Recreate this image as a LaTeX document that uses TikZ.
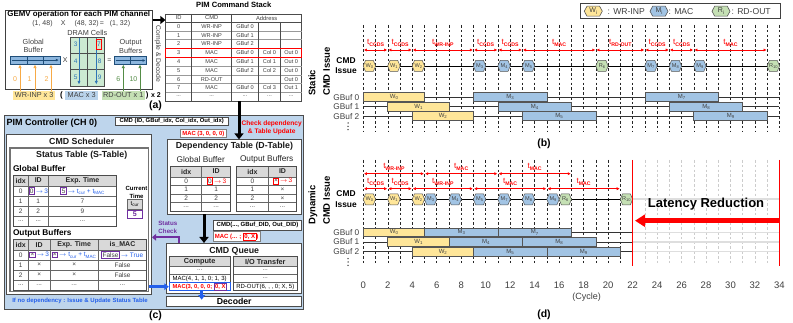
\documentclass[tikz,border=0pt]{standalone}
\usepackage{fontspec}
\setmainfont{Liberation Sans}
\usetikzlibrary{arrows.meta}
\definecolor{ctrlblue}{RGB}{190,213,236}
\definecolor{hexY}{RGB}{255,230,153}
\definecolor{hexB}{RGB}{162,196,228}
\definecolor{hexG}{RGB}{197,224,180}
\definecolor{edgeG}{RGB}{85,85,85}
\definecolor{txt}{RGB}{64,64,64}
\definecolor{hdr}{RGB}{217,217,217}
\definecolor{pur}{RGB}{112,48,160}
\definecolor{blu}{RGB}{35,95,235}
\definecolor{org}{RGB}{247,170,70}
\definecolor{grn}{RGB}{84,140,70}
\definecolor{cellG}{RGB}{204,234,210}
\definecolor{bufB}{RGB}{140,182,222}
\definecolor{navy}{RGB}{31,78,121}
\definecolor{lgray}{RGB}{222,222,222}
\definecolor{arrB}{RGB}{46,117,182}
\newcommand{\fs}[1]{\fontsize{#1}{#1}\selectfont}
\newcommand{\tsub}[1]{t\raisebox{-0.45ex}{\fs{5.2}\bfseries #1}}
\newcommand{\sbs}[1]{\raisebox{-0.35ex}{\scalebox{0.72}{#1}}}
\newcommand{\tcm}[1]{t\raisebox{-0.4ex}{\fs{4.6}#1}}
\newcommand{\rbx}[2]{{\setlength\fboxsep{0.6pt}\setlength\fboxrule{0.7pt}\fcolorbox{#1}{white}{#2}}}
\newcommand{\ddd}{...}
\tikzset{
  hexs/.pic={\filldraw[draw=edgeG, line width=0.5pt] (-6.2pt,0pt) -- (-3.9pt,5.5pt) -- (3.9pt,5.5pt) -- (6.2pt,0pt) -- (3.9pt,-5.5pt) -- (-3.9pt,-5.5pt) -- cycle;},
  hexl/.pic={\filldraw[draw=edgeG, line width=0.6pt] (-9pt,0pt) -- (-6.3pt,5pt) -- (6.3pt,5pt) -- (9pt,0pt) -- (6.3pt,-5pt) -- (-6.3pt,-5pt) -- cycle;},
  hexlbl/.style={inner sep=0pt, font=\fs{5.6}, text=txt},
  barbox/.style={draw=edgeG, line width=0.6pt},
  barlbl/.style={inner sep=0pt, font=\fs{6}, text=txt},
  gridd/.style={line width=0.5pt, black!85, dash pattern=on 2.6pt off 2.2pt},
  gridl/.style={line width=0.5pt, black!20, dash pattern=on 2.6pt off 2.2pt},
  hline/.style={line width=0.8pt, black!80},
  tarr/.style={red, line width=0.6pt, arrows={Latex[length=3pt,width=3.2pt]-Latex[length=3pt,width=3.2pt]}, shorten <=0.6pt, shorten >=0.6pt},
  tlbl/.style={red, inner sep=0pt, font=\fs{8}},
  tbl/.style={draw=black!70, line width=0.5pt},
  tsep/.style={draw=black!60, line width=0.5pt},
  cell/.style={inner sep=0pt, text=txt},
  hd/.style={inner sep=0pt, text=black!85, font=\bfseries\fs{7}},
  ttl/.style={inner sep=0pt, font=\bfseries\fs{8.8}, text=black!90},
  bigarr/.style={line width=3pt, -{Triangle[length=6pt,width=9pt]}},
  labl/.style={inner sep=0pt, font=\bfseries\fs{10.5}, text=black},
  sidelbl/.style={rotate=90, inner sep=0pt, align=left, font=\bfseries\fontsize{9.5}{14.5}\selectfont},
}
\begin{document}
\begin{tikzpicture}[x=1pt,y=-1pt]
\useasboundingbox (0,0) rectangle (793,323);
\fill[white] (0,0) rectangle (793,323);

% ================= (a) GEMV =================
\node[draw=black!75, line width=0.9pt, fill=white, minimum width=147.7pt, minimum height=79.3pt, inner sep=0pt] (gemv) at (78.85,49.65) {};
\node[inner sep=0pt, font=\bfseries\fs{7.9}] (gemvt) at (78.8,14.6) {GEMV operation for each PIM channel};
\node[cell, font=\fs{7}] (eq1) at (42.5,23.5) {(1, 48)};
\node[cell, font=\fs{7}] (eq2) at (63.3,23.5) {X};
\node[cell, font=\fs{7}] (eq3) at (86.7,23.5) {(48, 32)};
\node[cell, font=\fs{7}] (eq4) at (102,23.5) {=};
\node[cell, font=\fs{7}] (eq5) at (120,23.5) {(1, 32)};
\node[cell, font=\fs{7.3}] (dramt) at (87.3,32.8) {DRAM Cells};
\node[cell, font=\fontsize{7.3}{8.6}\selectfont, align=center] (gbt) at (33.3,46) {Global\\Buffer};
\node[cell, font=\fontsize{7.3}{8.6}\selectfont, align=center] (obt) at (130.7,46.2) {Output\\Buffers};
% global buffer bar
\draw[draw=navy, line width=0.6pt, fill=bufB] (10.7,56) rectangle (59.9,64.3);
\draw[navy, line width=0.5pt] (27.1,56) -- (27.1,64.3) (43.5,56) -- (43.5,64.3);
\draw[navy, line width=0.7pt, -{Latex[length=3pt,width=3pt]}] (12,60.1) -- (58.8,60.1);
\node[cell, font=\fs{7}] (xop) at (65.2,60.3) {X};
% DRAM cells
\draw[draw=black!70, line width=0.7pt, fill=cellG] (70.7,37.3) rectangle (104,86);
\draw[black!70, line width=0.5pt] (87.35,37.3) -- (87.35,86) (70.7,53.5) -- (104,53.5) (70.7,69.7) -- (104,69.7);
\draw[arrB, line width=0.8pt, -{Latex[length=3.5pt,width=3.2pt]}] (79,38.5) -- (79,84.5);
\draw[arrB, line width=0.8pt, -{Latex[length=3.5pt,width=3.2pt]}] (96.3,38.5) -- (96.3,84.5);
\foreach \nm/\xx/\yy in {3/75.6/44.6, 4/75.6/61.5, 5/75.6/77.4, 8/99.7/61.5, 9/99.7/77.4}
  \node[cell, text=arrB, font=\fs{6.5}] (dc\nm) at (\xx,\yy) {\nm};
\node[draw=red, line width=0.8pt, inner sep=0pt, minimum width=5.7pt, minimum height=10pt, text=arrB, font=\fs{6.5}] (dc7) at (99,44.6) {7};
\node[cell, font=\fs{7}] (eqop) at (109.3,61) {=};
% output buffer bar
\draw[draw=navy, line width=0.6pt, fill=bufB] (114.3,56.7) rectangle (146.7,64.3);
\draw[navy, line width=0.5pt] (130.5,56.7) -- (130.5,64.3);
\draw[navy, line width=0.7pt, -{Latex[length=3pt,width=3pt]}] (115.5,60.5) -- (145.5,60.5);
% index numbers
\foreach \nm/\xx in {0/15, 1/29.5, 2/46.5}
  \node[cell, text=org, font=\fs{7}] (gi\nm) at (\xx,79) {\nm};
\node[cell, text=grn, font=\fs{7}] (go6) at (118.3,79) {6};
\node[cell, text=grn, font=\fs{7}] (go10) at (133.5,79) {10};
% bottom labels
\node[fill=hexY, minimum width=41.7pt, minimum height=9.3pt, inner sep=0pt, font=\fs{7.3}, text=txt] (lwr) at (34.2,95.4) {WR-INP x 3};
\node[fill=hexB!75!white, minimum width=33.3pt, minimum height=9.3pt, inner sep=0pt, font=\fs{7.3}, text=txt] (lmac) at (81.7,95.4) {MAC x 3};
\node[fill=hexG, minimum width=43.3pt, minimum height=9.3pt, inner sep=0pt, font=\fs{7.3}, text=txt] (lrd) at (123.3,95.4) {RD-OUT x 1};
\node[cell, font=\bfseries\fs{8}, text=black] (lpar1) at (61.5,95.2) {(};
\node[cell, font=\bfseries\fs{8}, text=black] (lpar2) at (147.2,95.2) {)};
\node[cell, font=\bfseries\fs{7}, text=black] (lx2) at (156,95.4) {x 2};
\foreach \xx in {20,35,51}
  \draw[org, line width=0.9pt, -{Latex[length=3.5pt,width=3.5pt]}] (lwr.north -| \xx,0) -- (\xx,64.6);
\foreach \xx in {123.3,140}
  \draw[grn, line width=0.9pt, -{Latex[length=3.5pt,width=3.5pt]}] (lrd.north -| \xx,0) -- (\xx,64.6);
\node[labl] (lab-a) at (155.5,106) {(a)};
\node[cell, rotate=-90, font=\fs{6.8}] (cmpl) at (158,54) {Compile \& Decode};

% ================= PIM command stack =================
\node[draw=black!70, line width=0.6pt, fill=white, minimum width=136pt, minimum height=87.2pt, inner sep=0pt] (stack) at (233.7,57.6) {};
\node[anchor=west, inner sep=0pt, font=\bfseries\fs{7.6}] (stackt) at (196,5.2) {PIM Command Stack};
\foreach \ii in {1,...,8}
  \draw[black!40, line width=0.4pt] (165.7,{22+8.8*\ii}) -- (301.7,{22+8.8*\ii});
\draw[black!70, line width=0.5pt] (165.7,22) -- (301.7,22);
\draw[black!70, line width=0.5pt] (191.7,14) -- (191.7,101.2) (231.7,14) -- (231.7,101.2) (258.3,22) -- (258.3,101.2) (280.7,22) -- (280.7,101.2);
\node[cell, font=\fs{5.8}] (sh-id) at (178.7,18) {ID};
\node[cell, font=\fs{5.8}] (sh-cmd) at (211.7,18) {CMD};
\node[cell, font=\fs{5.8}] (sh-addr) at (266.7,18) {Address};
\foreach \ii/\cm/\ga/\gb/\gc in {0/WR-INP/GBuf 0/{}/{}, 1/WR-INP/GBuf 1/{}/{}, 2/WR-INP/GBuf 2/{}/{}, 3/MAC/GBuf 0/Col 0/Out 0, 4/MAC/GBuf 1/Col 1/Out 0, 5/MAC/GBuf 2/Col 2/Out 0, 6/RD-OUT/{}/{}/Out 0, 7/MAC/GBuf 0/Col 3/Out 1}{
  \node[cell, font=\fs{5.6}] (sid\ii) at (178.7,{26.4+8.8*\ii}) {\ii};
  \node[cell, font=\fs{5.6}] (scm\ii) at (211.7,{26.4+8.8*\ii}) {\cm};
  \node[cell, font=\fs{5.6}] (sga\ii) at (245,{26.4+8.8*\ii}) {\ga};
  \node[cell, font=\fs{5.6}] (sgb\ii) at (269.5,{26.4+8.8*\ii}) {\gb};
  \node[cell, font=\fs{5.6}] (sgc\ii) at (291.2,{26.4+8.8*\ii}) {\gc};
}
\foreach \xx/\nm in {178.7/a, 211.7/b, 245/c, 269.5/d, 291.2/e}
  \node[cell, font=\fs{5.6}] (sdots\nm) at (\xx,96.2) {\ddd};
\draw[red, line width=0.9pt] (165.7,48.4) rectangle (301.7,57.2);
\coordinate (gsrc) at (152.7,20);
\draw[line width=2.6pt, -{Triangle[length=5pt,width=8pt]}] (gsrc) -- (gsrc -| stack.west);

% ================= (c) PIM controller =================
\node[draw=black!70, line width=0.8pt, fill=ctrlblue, minimum width=299.3pt, minimum height=193.7pt, inner sep=0pt] (ctrl) at (153.65,212.15) {};
\node[anchor=west, inner sep=0pt, font=\bfseries\fs{9}] (ctrlt) at (6.5,123.5) {PIM Controller (CH 0)};
\node[draw=black!70, fill=white, line width=0.5pt, inner sep=0pt, minimum width=113.3pt, minimum height=8pt, font=\bfseries\fs{5.9}] (cmdin) at (171.65,121.3) {CMD (ID, GBuf\_idx, Col\_idx, Out\_idx)};
\node[draw=black!50, fill=white, line width=0.5pt, inner sep=0pt, minimum width=46.7pt, minimum height=7.6pt, font=\bfseries\fs{5.9}, text=red] (macin) at (203.35,133.5) {MAC (3, 0, 0, 0)};
\node[inner sep=0pt, align=center, font=\bfseries\fontsize{6.6}{8.3}\selectfont, text=red] (chk) at (271.7,128) {Check dependency\\\& Table Update};

% scheduler
\node[draw=black!70, line width=0.6pt, fill=white, minimum width=145pt, minimum height=159.8pt, inner sep=0pt] (sched) at (79.2,214.6) {};
\node[draw=black!55, line width=1.1pt, minimum width=138.5pt, minimum height=143.5pt, inner sep=0pt] (stat) at (79.25,219.75) {};
\node[ttl] (schedt) at (81.7,141.5) {CMD Scheduler};
\node[ttl] (statt) at (81.7,155.7) {Status Table (S-Table)};
\node[anchor=west, inner sep=0pt, font=\bfseries\fs{8.3}] (sgbt) at (12.8,169) {Global Buffer};
% S-table global buffer
\fill[hdr] (13.3,175) rectangle (116.7,186);
\draw[tsep] (13.3,186) -- (116.7,186) (13.3,196) -- (116.7,196) (13.3,206) -- (116.7,206) (13.3,216) -- (116.7,216);
\draw[tsep] (28.3,175) -- (28.3,226) (48.3,175) -- (48.3,226);
\draw[tbl, line width=0.8pt] (13.3,175) rectangle (116.7,226);
\node[hd] (sgh1) at (20.8,180.5) {idx};
\node[hd] (sgh2) at (38.3,180.5) {ID};
\node[hd] (sgh3) at (82.5,180.5) {Exp. Time};
\node[cell, font=\fs{6.5}] (sga0) at (20.8,191) {0};
\node[cell, font=\fs{6.5}] (sgb0) at (38.3,191) {\rbx{pur}{0}\,{\color{blu}$\rightarrow$\,3}};
\node[cell, font=\fs{6.5}] (sgc0) at (82.5,191) {\rbx{pur}{5}\,{\color{blu}$\rightarrow$ \tcm{cur} + \tcm{MAC}}};
\foreach \ii/\yy/\va/\vb/\vc in {1/201/1/1/7, 2/211/2/2/9, 3/221/\ddd/\ddd/\ddd}{
  \node[cell, font=\fs{6.5}] (sga\ii) at (20.8,\yy) {\va};
  \node[cell, font=\fs{6.5}] (sgb\ii) at (38.3,\yy) {\vb};
  \node[cell, font=\fs{6.5}] (sgc\ii) at (82.5,\yy) {\vc};
}
% current time
\node[inner sep=0pt, align=center, font=\bfseries\fontsize{6}{8.3}\selectfont] (curt) at (136.5,192.2) {Current\\Time};
\node[draw=black!60, fill=hdr, line width=0.5pt, minimum width=14.5pt, minimum height=10.5pt, inner sep=0pt, font=\fs{6}] (tcur) at (134.75,204.2) {\tcm{cur}};
\node[draw=pur, line width=0.9pt, fill=white, minimum width=14.5pt, minimum height=8pt, inner sep=0pt, font=\bfseries\fs{7}, text=pur] (tval) at (134.75,214.5) {5};
% S-table output buffers
\node[anchor=west, inner sep=0pt, font=\bfseries\fs{8.3}] (sobt) at (12.8,233.3) {Output Buffers};
\fill[hdr] (13.3,239.3) rectangle (146.7,250);
\draw[tsep] (13.3,250) -- (146.7,250) (13.3,260) -- (146.7,260) (13.3,270) -- (146.7,270) (13.3,280) -- (146.7,280);
\draw[tsep] (28.3,239.3) -- (28.3,290) (50,239.3) -- (50,290) (98.3,239.3) -- (98.3,290);
\draw[tbl, line width=0.8pt] (13.3,239.3) rectangle (146.7,290);
\node[hd] (soh1) at (20.8,244.7) {idx};
\node[hd] (soh2) at (39.2,244.7) {ID};
\node[hd] (soh3) at (74.2,244.7) {Exp. Time};
\node[hd] (soh4) at (122.5,244.7) {is\_MAC};
\node[cell, font=\fs{6.5}] (soa0) at (20.8,255) {0};
\node[cell, font=\fs{6.5}] (sob0) at (39.2,255) {\rbx{pur}{×}\,{\color{blu}$\rightarrow$\,3}};
\node[cell, font=\fs{6.5}] (soc0) at (73.8,255) {\rbx{pur}{×}\,{\color{blu}$\rightarrow$ \tcm{cur} + \tcm{MAC}}};
\node[cell, font=\fs{6.5}] (sod0) at (122.2,255) {\rbx{pur}{False}\,{\color{blu}$\rightarrow$ True}};
\foreach \ii/\yy/\va/\vb/\vc/\vd in {1/265/1/×/×/False, 2/275/2/×/×/False, 3/285/\ddd/\ddd/\ddd/\ddd}{
  \node[cell, font=\fs{6.5}] (soa\ii) at (20.8,\yy) {\va};
  \node[cell, font=\fs{6.5}] (sob\ii) at (39.2,\yy) {\vb};
  \node[cell, font=\fs{6.5}] (soc\ii) at (74.2,\yy) {\vc};
  \node[cell, font=\fs{6.5}] (sod\ii) at (122.5,\yy) {\vd};
}

% D-table
\node[draw=black!70, line width=0.6pt, fill=white, minimum width=134.4pt, minimum height=74.3pt, inner sep=0pt] (dtab) at (234.5,176.85) {};
\node[ttl] (dtabt) at (234.5,146.5) {Dependency Table (D-Table)};
\node[cell, font=\fs{8.3}, text=black!85] (dgbt) at (200.7,159.7) {Global Buffer};
\node[cell, font=\fs{8.3}, text=black!85] (dobt) at (266.7,159.7) {Output Buffers};
\fill[hdr] (170.7,166.3) rectangle (230.7,176.8);
\fill[hdr] (236.7,166.3) rectangle (296.7,176.8);
\draw[tsep] (170.7,176.8) -- (230.7,176.8) (170.7,185.4) -- (230.7,185.4) (170.7,194) -- (230.7,194) (170.7,202.5) -- (230.7,202.5) (201.7,166.3) -- (201.7,211);
\draw[tsep] (236.7,176.8) -- (296.7,176.8) (236.7,185.4) -- (296.7,185.4) (236.7,194) -- (296.7,194) (236.7,202.5) -- (296.7,202.5) (268.3,166.3) -- (268.3,211);
\draw[tbl, line width=0.8pt] (170.7,166.3) rectangle (230.7,211);
\draw[tbl, line width=0.8pt] (236.7,166.3) rectangle (296.7,211);
\node[hd] (dgh1) at (186.2,171.5) {idx};
\node[hd] (dgh2) at (216.2,171.5) {ID};
\node[hd] (doh1) at (252.5,171.5) {idx};
\node[hd] (doh2) at (282.5,171.5) {ID};
\node[cell, font=\fs{6.5}] (dga0) at (186.2,181.1) {0};
\node[cell, font=\fs{6.5}] (dgb0) at (216.5,181.1) {\rbx{red}{0}\,{\color{red}$\rightarrow$\,3}};
\node[cell, font=\fs{6.5}] (doa0) at (252.5,181.1) {0};
\node[cell, font=\fs{6.5}] (dob0) at (282.5,181.1) {\rbx{red}{×}\,{\color{red}$\rightarrow$\,3}};
\foreach \ii/\yy/\va/\vb/\vd in {1/189.7/1/1/×, 2/198.2/2/2/×, 3/206.8/\ddd/\ddd/\ddd}{
  \node[cell, font=\fs{6.5}] (dga\ii) at (186.2,\yy) {\va};
  \node[cell, font=\fs{6.5}] (dgb\ii) at (216.2,\yy) {\vb};
  \node[cell, font=\fs{6.5}] (doa\ii) at (252.5,\yy) {\va};
  \node[cell, font=\fs{6.5}] (dob\ii) at (282.5,\yy) {\vd};
}
\node[draw=black!70, fill=white, line width=0.5pt, inner sep=0pt, minimum width=88.4pt, minimum height=9.3pt, font=\bfseries\fs{6}] (cmdout) at (257.5,225.35) {CMD(..., GBuf\_DID, Out\_DID)};
\node[draw=black!50, fill=white, line width=0.5pt, inner sep=0pt, minimum width=46.7pt, minimum height=10pt, font=\bfseries\fs{6}, text=red] (macout) at (236.65,236.7) {MAC (... ; \rbx{red}{0, X})};

% CMD queue
\node[draw=black!70, line width=0.6pt, fill=white, minimum width=135pt, minimum height=50pt, inner sep=0pt] (queue) at (234.2,268.3) {};
\node[ttl] (queuet) at (234.2,251.3) {CMD Queue};
\fill[hdr] (169.3,256.7) rectangle (230,266.7);
\fill[hdr] (233.3,256.7) rectangle (297.3,266.7);
\draw[tsep] (169.3,266.7) -- (230,266.7) (169.3,274.7) -- (230,274.7) (169.3,282.7) -- (230,282.7);
\draw[tsep] (233.3,266.7) -- (297.3,266.7) (233.3,274.7) -- (297.3,274.7) (233.3,282.7) -- (297.3,282.7);
\draw[tbl, line width=0.8pt] (169.3,256.7) rectangle (230,290.7);
\draw[tbl, line width=0.8pt] (233.3,256.7) rectangle (297.3,290.7);
\node[hd, font=\bfseries\fs{7.3}] (cpt) at (199.65,261.7) {Compute};
\node[hd, font=\bfseries\fs{7.3}] (iot) at (265.3,261.7) {I/O Transfer};
\node[cell, font=\fs{6.2}] (cq1) at (199.65,270.5) {\ddd};
\node[cell, font=\fs{6}, text=black] (cq2) at (199.65,278.7) {MAC(4, 1, 1, 0; 1, 3)};
\node[draw=blu, line width=1pt, minimum width=60.7pt, minimum height=8pt, inner sep=0pt, font=\bfseries\fs{5.8}, text=red] (mac3cell) at (199.65,286.7) {MAC(3, 0, 0, 0; \rbx{pur}{0, X}};
\node[cell, font=\fs{6.2}] (io1) at (265.3,270.5) {\ddd};
\node[cell, font=\fs{6.2}] (io2) at (265.3,278.5) {\ddd};
\node[cell, font=\fs{6}, text=black] (io3) at (265.3,286.7) {RD-OUT(6, , , 0; X, 5)};
\node[draw=black!70, line width=0.6pt, fill=white, minimum width=135pt, minimum height=10.7pt, inner sep=0pt, font=\bfseries\fs{8.7}] (dec) at (234.2,301.35) {Decoder};
\node[inner sep=0pt, font=\bfseries\fs{6}, text=blu] (nodep) at (80,300.7) {If no dependency : Issue \& Update Status Table};
\node[inner sep=0pt, align=center, font=\bfseries\fontsize{6.2}{8.3}\selectfont, text=pur] (stchk) at (167.8,227.5) {Status\\Check};
\node[labl] (lab-c) at (155.5,316) {(c)};

% controller connectors
\draw[bigarr] ([xshift=5.3pt]stack.south) -- ([xshift=5.3pt]stack.south |- dtab.north);
\draw[bigarr] ([xshift=-30.5pt]dtab.south) -- ([xshift=-30.5pt]dtab.south |- queue.north);
\draw[pur, line width=2.2pt, -{Triangle[length=4pt,width=6.5pt]}] (queue.north -| 179,0) |- (sched.east |- 0,237.3);
\draw[blu, line width=2.4pt, -{Triangle[length=4.5pt,width=6.5pt]}] (stat.east |- mac3cell.west) -- (mac3cell.west);
\draw[blu, line width=2.4pt, -{Triangle[length=4.5pt,width=6.5pt]}] ([xshift=2pt]mac3cell.south) -- ([xshift=2pt,yshift=-4pt]mac3cell.south |- dec.north);

% ================= legend =================
\node[draw=black!75, line width=1pt, fill=white, minimum width=199.3pt, minimum height=15.7pt, inner sep=0pt] (legend) at (680.35,11.15) {};
\pic[fill=hexY] at (593.3,11.2) {hexl};
\node[hexlbl, font=\fs{7}] (lgw) at (593.3,11.2) {W\sbs{i}};
\node[anchor=west, inner sep=0pt, font=\fs{8.6}, text=txt] (lgwt) at (607.5,11.2) {: WR-INP};
\pic[fill=hexB] at (659,11.2) {hexl};
\node[hexlbl, font=\fs{7}] (lgm) at (659,11.2) {M\sbs{i}};
\node[anchor=west, inner sep=0pt, font=\fs{8.6}, text=txt] (lgmt) at (668.5,11.2) {: MAC};
\pic[fill=hexG] at (721,11.2) {hexl};
\node[hexlbl, font=\fs{7}] (lgr) at (721,11.2) {R\sbs{i}};
\node[anchor=west, inner sep=0pt, font=\fs{8.6}, text=txt] (lgrt) at (731.5,11.2) {: RD-OUT};

% ================= (b) static timing =================
\node[sidelbl] (stlbl) at (319.3,71.5) {Static\\CMD Issue};
\node[inner sep=0pt, align=center, font=\bfseries\fontsize{8.4}{10.4}\selectfont] (cib) at (346,65.5) {CMD\\Issue};
\node[anchor=east, inner sep=0pt, font=\fs{8.3}, text=txt] (gb0b) at (359.5,97.2) {GBuf 0};
\node[anchor=east, inner sep=0pt, font=\fs{8.3}, text=txt] (gb1b) at (359.5,106.75) {GBuf 1};
\node[anchor=east, inner sep=0pt, font=\fs{8.3}, text=txt] (gb2b) at (359.5,116.3) {GBuf 2};
\foreach \yy in {123,126.3,129.6} \fill[black!80] (348,\yy) circle (0.75pt);
\begin{scope}[shift={(363.3,0)},x=12.24pt,y=-1pt]
  \foreach \cc in {0,...,34} \draw[gridd] (\cc,25) -- (\cc,132);
  \draw[hline,black] (0,66) -- (34,66);
  \foreach \yy in {97.2,106.75,116.3} \draw[hline] (0,\yy) -- (34,\yy);
  \foreach \cA/\cB/\rw/\col/\tp/\nm in {0/5/0/hexY/W/0, 2/7/1/hexY/W/1, 4/9/2/hexY/W/2, 9/15/0/hexB/M/3, 11/17/1/hexB/M/4, 13/19/2/hexB/M/5, 23/29/0/hexB/M/7, 25/31/1/hexB/M/8, 27/33/2/hexB/M/9}
    \draw[barbox,fill=\col] (\cA,{92.7+9.55*\rw}) rectangle node[barlbl] (sbar\nm) {\tp\sbs{\nm}} (\cB,{101.7+9.55*\rw});
  \foreach \cc/\col/\tp/\nm in {0.5/hexY/W/0, 2.5/hexY/W/1, 4.5/hexY/W/2, 9.5/hexB/M/3, 11.5/hexB/M/4, 13.5/hexB/M/5, 19.5/hexG/R/6, 23.5/hexB/M/7, 25.5/hexB/M/8, 27.5/hexB/M/9, 33.5/hexG/R/10}{
    \pic[fill=\col] at (\cc,66) {hexs};
    \node[hexlbl] (shex\nm) at (\cc,66) {\tp\sbs{\nm}};
  }
  \foreach \cA/\cB/\lb in {0/2/CCDS, 2/4/CCDS, 4/9/WR-INP, 9/11/CCDS, 11/13/CCDS, 13/19/MAC, 19/23/RD-OUT, 23/25/CCDS, 25/27/CCDS, 27/33/MAC}
    \draw[tarr] (\cA,50) -- node[tlbl,yshift=7pt] (sarr\cA) {\tsub{\lb}} (\cB,50);
\end{scope}
\node[labl] (lab-b) at (544,144) {(b)};

% ================= (d) dynamic timing =================
\node[sidelbl] (dylbl) at (319.3,200.5) {Dynamic\\CMD Issue};
\node[inner sep=0pt, align=center, font=\bfseries\fontsize{8.4}{10.4}\selectfont] (cid) at (346,199.3) {CMD\\Issue};
\node[anchor=east, inner sep=0pt, font=\fs{8.3}, text=txt] (gb0d) at (359.5,232.4) {GBuf 0};
\node[anchor=east, inner sep=0pt, font=\fs{8.3}, text=txt] (gb1d) at (359.5,242) {GBuf 1};
\node[anchor=east, inner sep=0pt, font=\fs{8.3}, text=txt] (gb2d) at (359.5,251.6) {GBuf 2};
\foreach \yy in {258.7,262,265.3} \fill[black!80] (348,\yy) circle (0.75pt);
\begin{scope}[shift={(363.3,0)},x=12.24pt,y=-1pt]
  \foreach \cc in {0,...,21} \draw[gridd] (\cc,160) -- (\cc,265);
  \foreach \cc in {23,...,33} \draw[gridl] (\cc,160) -- (\cc,265);
  \foreach \yy in {199.3,232.4,242,251.6} \draw[line width=1.6pt, lgray] (22,\yy) -- (34,\yy);
  \draw[hline,black] (0,199.3) -- (22,199.3);
  \foreach \yy in {232.4,242,251.6} \draw[hline] (0,\yy) -- (22,\yy);
  \foreach \cA/\cB/\rw/\col/\tp/\nm in {0/5/0/hexY/W/0, 2/7/1/hexY/W/1, 4/9/2/hexY/W/2, 5/11/0/hexB/M/3, 7/13/1/hexB/M/4, 9/15/2/hexB/M/5, 11/17/0/hexB/M/7, 13/19/1/hexB/M/8, 15/21/2/hexB/M/9}
    \draw[barbox,fill=\col] (\cA,{228+9.6*\rw}) rectangle node[barlbl] (dbar\nm) {\tp\sbs{\nm}} (\cB,{236.8+9.6*\rw});
  \foreach \cc/\col/\tp/\nm in {0.5/hexY/W/0, 2.5/hexY/W/1, 4.5/hexY/W/2, 5.5/hexB/M/3, 7.5/hexB/M/4, 9.5/hexB/M/5, 11.5/hexB/M/7, 13.5/hexB/M/8, 15.5/hexB/M/9, 16.5/hexG/R/6, 21.5/hexG/R/10}{
    \pic[fill=\col] at (\cc,199.3) {hexs};
    \node[hexlbl] (dhex\nm) at (\cc,199.3) {\tp\sbs{\nm}};
  }
  \foreach \cA/\cB/\lb in {0/5/WR-INP, 5/11/MAC, 11/17/MAC}
    \draw[tarr] (\cA,173.7) -- node[tlbl,yshift=7pt] (darru\cA) {\tsub{\lb}} (\cB,173.7);
  \foreach \cA/\cB/\lb in {0/2/CCDS, 2/4/CCDS, 4/9/WR-INP, 9/15/MAC, 15/21/MAC}
    \draw[tarr] (\cA,188.7) -- node[tlbl,yshift=7pt] (darrl\cA) {\tsub{\lb}} (\cB,188.7);
  \draw[red, line width=1.6pt] (22,160) -- (22,265.7);
  \draw[red, line width=1.6pt] (34,160) -- (34,265.7);
  \foreach \cc in {0,2,...,34}
    \node[inner sep=0pt, font=\fs{9.5}, text=txt] (tk\cc) at (\cc,285) {\cc};
  \coordinate (lr34) at (34,220.7);
  \coordinate (lr22) at (22.2,220.7);
\end{scope}
\node[inner sep=0pt, font=\bfseries\fs{13}] (latred) at (706,204) {Latency Reduction};
\draw[red, line width=5pt, -{Triangle[length=10pt,width=12pt]}] (lr34) -- (lr22);
\node[inner sep=0pt, font=\fs{9}, text=txt] (cyc) at (586.7,297.3) {(Cycle)};
\node[labl] (lab-d) at (544,315) {(d)};
\end{tikzpicture}
\end{document}
